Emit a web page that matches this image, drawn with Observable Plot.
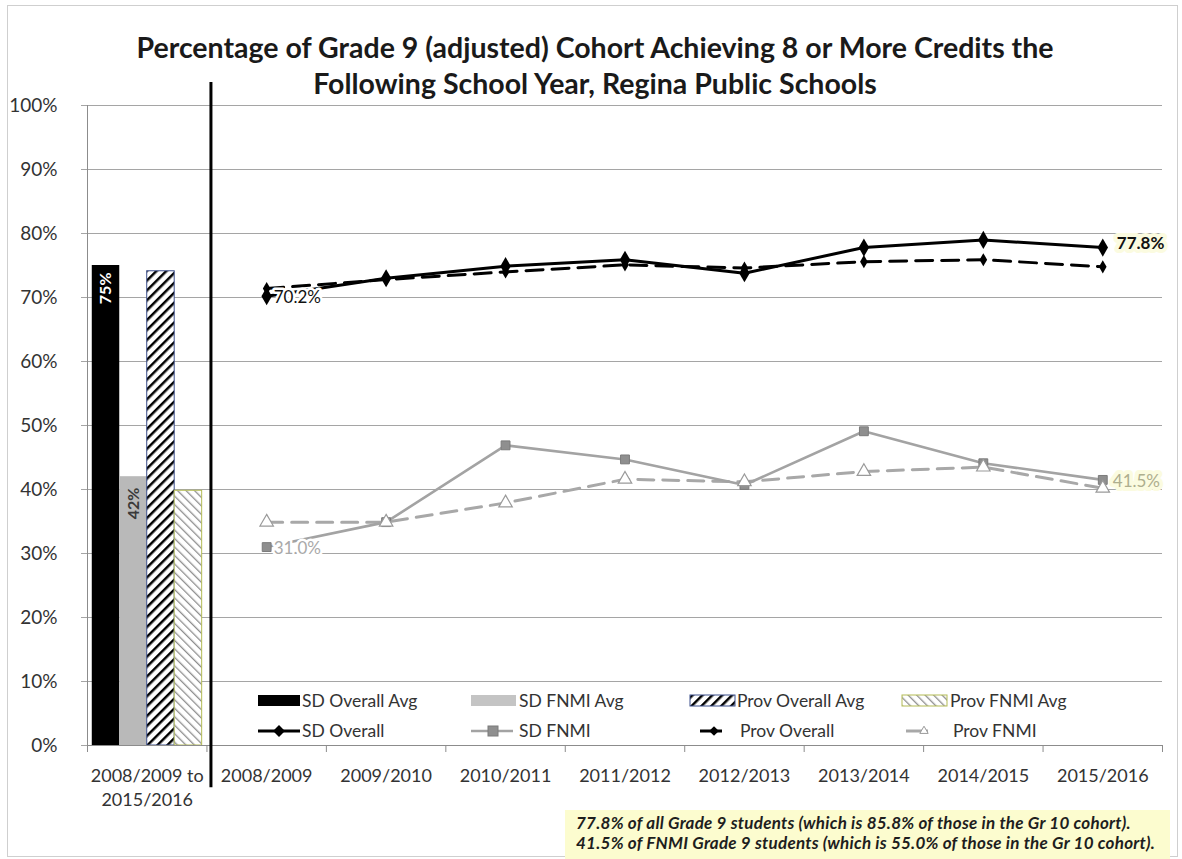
<!DOCTYPE html>
<html>
<head>
<meta charset="utf-8">
<script src="https://cdn.jsdelivr.net/npm/d3@7"></script>
<script src="https://cdn.jsdelivr.net/npm/@observablehq/plot@0.6"></script>
<style>
  body { margin: 0; background: #fff; font-family: Lato, "Open Sans", sans-serif; }
  #chart { position: relative; width: 1182px; height: 859px; overflow: hidden; background: #fff; }
  #frame { position: absolute; left: 7px; top: 5px; width: 1171px; height: 852px; border: 1px solid #cfcfcf; box-sizing: border-box; }
  #title { position: absolute; left: 0; top: 29px; width: 1190px; text-align: center; font-weight: bold;
           font-size: 28.5px; line-height: 36px; color: #1a1a1a; }
  #plot { position: absolute; left: 0; top: 0; }
  #legend { position: absolute; left: 0; top: 0; }
  #note { position: absolute; left: 565px; top: 810px; width: 605px; height: 49px; background: #fcfccf;
          font-weight: bold; font-style: italic; font-size: 17px; letter-spacing: 0.25px; line-height: 20px; color: #1e1e1e;
          padding: 3px 0 0 11px; box-sizing: border-box; white-space: nowrap; }
</style>
</head>
<body>
<svg width="0" height="0" style="position:absolute">
  <defs>
    <pattern id="hatchProvOverall" width="7" height="7" patternUnits="userSpaceOnUse" patternTransform="rotate(45)">
      <rect width="7" height="7" fill="#fff"></rect>
      <line x1="0" y1="0" x2="0" y2="7" stroke="#000" stroke-width="5"></line>
    </pattern>
    <pattern id="hatchProvFnmi" width="6" height="6" patternUnits="userSpaceOnUse" patternTransform="rotate(-45)">
      <rect width="6" height="6" fill="#fff"></rect>
      <line x1="0" y1="0" x2="0" y2="6" stroke="#8e8e8e" stroke-width="2.6"></line>
    </pattern>
  </defs>
</svg>
<div id="chart">
  <div id="frame"></div>
  <div id="title">Percentage of Grade 9 (adjusted) Cohort Achieving 8 or More Credits the<br>Following School Year, Regina Public Schools</div>
  <div id="note"></div>
</div>
<script>
// Category axis: the multi-year average first, then one slot per school year
const categories = ["2008/2009 to\n2015/2016", "2008/2009", "2009/2010", "2010/2011", "2011/2012",
                    "2012/2013", "2013/2014", "2014/2015", "2015/2016"];
const years = categories.slice(1);

// Averages over 2008/2009 to 2015/2016 (percent)
const avgNames = ["SD Overall Avg", "SD FNMI Avg", "Prov Overall Avg", "Prov FNMI Avg"];
const avgValues = [75, 42, 74.1, 39.8];

// Yearly series (percent)
const sdOverall   = [70.2, 73.0, 74.9, 75.9, 73.8, 77.8, 79.0, 77.8];
const provOverall = [71.4, 72.8, 74.0, 75.1, 74.6, 75.6, 75.9, 74.8];
const sdFnmi      = [31.0, 34.9, 46.9, 44.7, 40.7, 49.1, 44.1, 41.5];
const provFnmi    = [34.9, 34.9, 37.9, 41.6, 41.2, 42.8, 43.5, 40.2];

const yTicks = [0, 10, 20, 30, 40, 50, 60, 70, 80, 90, 100];
const noteLines = [
  "77.8% of all Grade 9 students (which is 85.8% of those in the Gr 10 cohort).",
  "41.5% of FNMI Grade 9 students (which is 55.0% of those in the Gr 10 cohort)."
];

const pct = d => d + "%";
const pct1 = d => d.toFixed(1) + "%";
const yearX = (d, i) => i + 1;           // yearly points sit in slots 1..8
const lastIdx = years.length - 1;

// Bars for the averages share the first slot
const barW = 0.23, barStart = -0.46;
const barFills = ["#000000", "#b9b9b9", "url(#hatchProvOverall)", "url(#hatchProvFnmi)"];
const barStrokes = [null, null, "#3b4f8c", "#b3bb55"];

const barMarks = avgValues.map((v, k) => Plot.rectY([v], {
  x1: () => barStart + k * barW,
  x2: () => barStart + (k + 1) * barW,
  y: d => d,
  fill: barFills[k],
  stroke: barStrokes[k] || "none",
  strokeWidth: 1
}));

const plot = Plot.plot({
  width: 1182,
  height: 859,
  marginLeft: 87,
  marginRight: 20,
  marginTop: 105,
  marginBottom: 114,
  style: { fontFamily: "Lato, 'Open Sans', sans-serif", background: "transparent", overflow: "visible" },
  x: { type: "linear", domain: [-0.5, categories.length - 0.5], axis: null },
  y: { domain: [0, 100], axis: null },
  marks: [
    Plot.gridY(yTicks, { stroke: "#a5a5a5", strokeOpacity: 1 }),
    Plot.axisY(yTicks, { tickSize: 6, tickPadding: 24, tickFormat: pct, fontSize: 19,
                         stroke: "#a5a5a5", fill: "#333" }),
    ...barMarks,
    // average labels inside the two solid bars
    Plot.text([avgValues[0]], { x: () => barStart + 0.5 * barW, y: d => d, text: pct, rotate: -90,
      textAnchor: "end", dy: 7, fill: "#fff", fontWeight: "bold", fontSize: 16 }),
    Plot.text([avgValues[1]], { x: () => barStart + 1.5 * barW, y: d => d, text: pct, rotate: -90,
      textAnchor: "end", dy: 11, fill: "#3a3a3a", fontWeight: "bold", fontSize: 16 }),
    // axis lines and category ticks
    Plot.ruleX([-0.5], { stroke: "#8c8c8c" }),
    Plot.ruleY([0], { stroke: "#8c8c8c" }),
    Plot.axisX(d3.range(-0.5, categories.length, 1), { tickSize: 7, tickFormat: () => "", stroke: "#8c8c8c" }),
    Plot.axisX(d3.range(categories.length), { tickSize: 0, tickPadding: 20, tickFormat: i => categories[i],
      fontSize: 18, lineHeight: 1.3, fill: "#333" }),
    // separator between the averages and the yearly values
    Plot.ruleX([0.5], { y1: () => -6.6, y2: () => 103.6, stroke: "#000", strokeWidth: 3, dx: 4 }),
    // FNMI series
    Plot.line(provFnmi, { x: yearX, y: d => d, stroke: "#a8a8a8", strokeWidth: 3, strokeDasharray: "16,9" }),
    Plot.line(sdFnmi, { x: yearX, y: d => d, stroke: "#a3a3a3", strokeWidth: 2.6 }),
    Plot.dot(sdFnmi, { x: yearX, y: d => d, symbol: "square", r: 5, fill: "#8f8f8f", stroke: "#7b7b7b", strokeWidth: 1 }),
    Plot.dot(provFnmi, { x: yearX, y: d => d, symbol: "triangle", r: 5, fill: "#fff", stroke: "#9a9a9a", strokeWidth: 1.2 }),
    // overall series
    Plot.line(provOverall, { x: yearX, y: d => d, stroke: "#000", strokeWidth: 3, strokeDasharray: "17,9" }),
    Plot.line(sdOverall, { x: yearX, y: d => d, stroke: "#000", strokeWidth: 3 }),
    Plot.dot(provOverall, { x: yearX, y: d => d, symbol: "diamond", r: 4, fill: "#000" }),
    Plot.dot(sdOverall, { x: yearX, y: d => d, symbol: "diamond", r: 5.5, fill: "#000" }),
    // value labels at the first and last years
    Plot.text([sdOverall[0]], { x: () => 1, y: d => d, text: pct1, textAnchor: "start", dx: 7, dy: 1,
      fill: "#111", fontSize: 17, stroke: "#fff", strokeWidth: 5 }),
    Plot.text([sdFnmi[0]], { x: () => 1, y: d => d, text: pct1, textAnchor: "start", dx: 7, dy: 1,
      fill: "#a9a9a9", fontSize: 17, stroke: "#fff", strokeWidth: 5 }),
    Plot.text([sdOverall[lastIdx]], { x: () => lastIdx + 1, y: d => d, text: pct1, textAnchor: "start", dx: 14, dy: -4,
      fill: "#111", fontSize: 17, fontWeight: "bold", stroke: "#fbfbe0", strokeWidth: 8 }),
    Plot.text([sdFnmi[lastIdx]], { x: () => lastIdx + 1, y: d => d, text: pct1, textAnchor: "start", dx: 10, dy: 2,
      fill: "#aeae8e", fontSize: 17, stroke: "#fbfbe0", strokeWidth: 8 })
  ]
});
plot.id = "plot";
document.getElementById("chart").appendChild(plot);

// Legend inside the plot area, two rows of four entries
const legend = d3.select("#chart").append("svg")
  .attr("id", "legend").attr("width", 1182).attr("height", 859)
  .style("font-family", "Lato, 'Open Sans', sans-serif");

const colX = [258, 471, 690, 902];
const textX = [302, 519, 737, 950];
const row1 = 701, row2 = 731;

// bar swatches
legend.append("rect").attr("x", colX[0]).attr("y", row1 - 6).attr("width", 42).attr("height", 11).attr("fill", "#000");
legend.append("rect").attr("x", colX[1]).attr("y", row1 - 6).attr("width", 45).attr("height", 11).attr("fill", "#c4c4c4");
legend.append("rect").attr("x", colX[2]).attr("y", row1 - 6).attr("width", 45).attr("height", 11)
  .attr("fill", "url(#hatchProvOverall)").attr("stroke", "#3b4f8c");
legend.append("rect").attr("x", colX[3]).attr("y", row1 - 6).attr("width", 45).attr("height", 11)
  .attr("fill", "url(#hatchProvFnmi)").attr("stroke", "#b3bb55");

// line swatches
legend.append("line").attr("x1", colX[0]).attr("x2", colX[0] + 42).attr("y1", row2).attr("y2", row2)
  .attr("stroke", "#000").attr("stroke-width", 3);
legend.append("path").attr("d", d3.symbol(d3.symbolDiamond2, 90)())
  .attr("transform", `translate(${colX[0] + 21},${row2})`).attr("fill", "#000");
legend.append("line").attr("x1", colX[1]).attr("x2", colX[1] + 42).attr("y1", row2).attr("y2", row2)
  .attr("stroke", "#a3a3a3").attr("stroke-width", 2.6);
legend.append("rect").attr("x", colX[1] + 17).attr("y", row2 - 5).attr("width", 10).attr("height", 10)
  .attr("fill", "#8f8f8f").attr("stroke", "#7b7b7b");
legend.append("line").attr("x1", colX[2] + 10).attr("x2", colX[2] + 32).attr("y1", row2).attr("y2", row2)
  .attr("stroke", "#000").attr("stroke-width", 3);
legend.append("path").attr("d", d3.symbol(d3.symbolDiamond2, 60)())
  .attr("transform", `translate(${colX[2] + 24},${row2})`).attr("fill", "#000");
legend.append("line").attr("x1", colX[3] + 4).attr("x2", colX[3] + 26).attr("y1", row2).attr("y2", row2)
  .attr("stroke", "#a8a8a8").attr("stroke-width", 3);
legend.append("path").attr("d", d3.symbol(d3.symbolTriangle2, 50)())
  .attr("transform", `translate(${colX[3] + 22},${row2})`).attr("fill", "#fff").attr("stroke", "#9a9a9a");

const rowLabels = [avgNames, ["SD Overall", "SD FNMI", "Prov Overall", "Prov FNMI"]];
rowLabels.forEach((labels, r) => {
  labels.forEach((t, k) => {
    legend.append("text").attr("x", textX[k] + (r === 1 && k >= 2 ? 3 : 0)).attr("y", r ? row2 : row1)
      .attr("dy", "0.35em").attr("font-size", 17.5).attr("fill", "#333").text(t);
  });
});

// highlighted footnote
d3.select("#note").selectAll("div").data(noteLines).join("div").text(d => d);
</script>
</body>
</html>
